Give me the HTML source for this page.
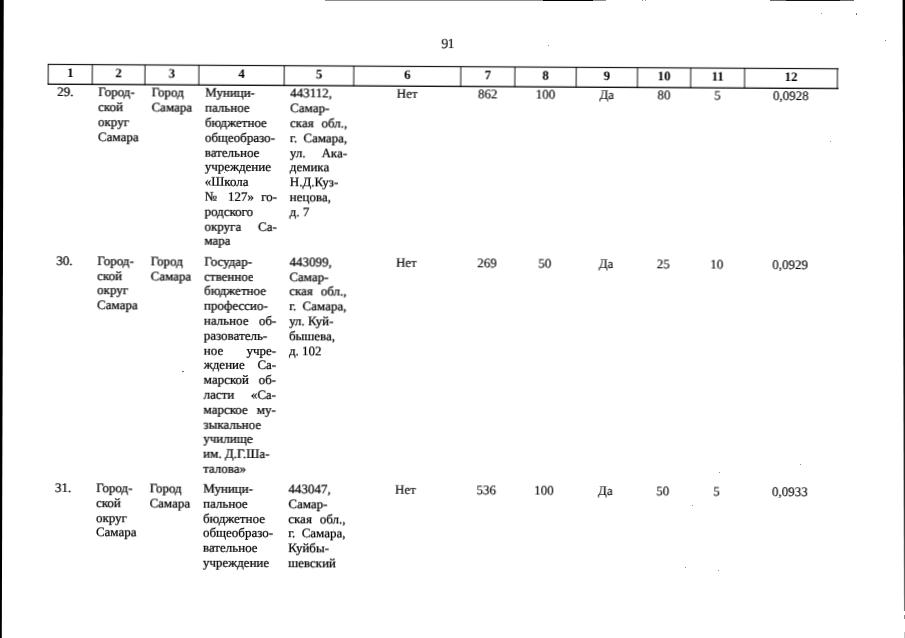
<!DOCTYPE html>
<html lang="ru"><head><meta charset="utf-8"><title>91</title>
<style>
html,body{margin:0;padding:0;background:#fff;}
body{width:905px;height:638px;overflow:hidden;position:relative;font-family:"Liberation Serif",serif;font-size:13px;color:#000;-webkit-text-stroke:0.24px #000;text-rendering:geometricPrecision;}
#pg{position:absolute;left:0;top:0;width:905px;height:638px;transform-origin:0 0;transform:translate(0px,-0.4px) rotate(0.32deg);will-change:transform;}
.t{position:absolute;line-height:15px;height:15px;white-space:pre;}
.j{text-align:justify;text-align-last:justify;white-space:normal;}
.m{text-align:center;-webkit-text-stroke:0.12px #000;}
.h{font-weight:bold;text-align:center;-webkit-text-stroke:0;}
.ln{position:absolute;}
.ht{height:2px;background:linear-gradient(180deg,#000 0,#000 1px,rgba(0,0,0,.2) 1px,rgba(0,0,0,.2) 2px);}
.hb{height:2px;background:linear-gradient(180deg,rgba(0,0,0,.35) 0,rgba(0,0,0,.35) 1px,#000 1px,#000 2px);}
.vt{width:2px;background:linear-gradient(90deg,#111 0,#111 1px,rgba(0,0,0,.08) 1px,rgba(0,0,0,.08) 2px);}
.e{position:absolute;}
.d{position:absolute;background:#555;border-radius:50%;}
</style></head><body>
<div class="e" style="left:0;top:0;width:5px;height:638px;background:#000;clip-path:polygon(0 0,3.75px 0,1.8px 638px,0 638px);"></div>
<div class="e" style="left:900px;top:0;width:5px;height:611px;background:linear-gradient(180deg,#000 0,#000 55%,#2c2c2c 80%,#777 100%);clip-path:polygon(2.6px 0,5px 0,5px 611px,3.95px 611px);"></div>
<div class="e" style="left:904px;top:615px;width:1px;height:3.5px;background:#888;"></div>
<div class="e" style="left:904.3px;top:632px;width:0.7px;height:6px;background:#c4c4c4;"></div>
<div class="e" style="left:325px;top:0;width:281px;height:1px;background:#777;opacity:.85"></div>
<div class="e" style="left:543px;top:0;width:50px;height:1px;background:#000;"></div>
<div class="e" style="left:770px;top:0;width:84px;height:1px;background:#666;"></div>
<div class="e" style="left:786px;top:0;width:54px;height:1.4px;background:#111;"></div>
<div id="pg">
<div class="t" style="left:441.6px;top:35px;font-size:14px;letter-spacing:-0.9px;-webkit-text-stroke:0.05px #000;">91</div>
<div class="ln" style="left:48px;top:63px;width:791px;height:3px;background:linear-gradient(180deg,rgba(0,0,0,0.092) 0px,rgba(0,0,0,0.092) 1px,rgba(0,0,0,0.92) 1px,rgba(0,0,0,0.92) 2px,rgba(0,0,0,0.092) 2px,rgba(0,0,0,0.092) 3px);"></div>
<div class="ln" style="left:48px;top:83px;width:791px;height:2px;background:linear-gradient(180deg,rgba(0,0,0,0.356) 0px,rgba(0,0,0,0.356) 1px,rgba(0,0,0,0.926) 1px,rgba(0,0,0,0.926) 2px);"></div>
<div class="ln" style="left:48px;top:64px;width:2px;height:21px;background:linear-gradient(90deg,rgba(0,0,0,0.807) 0px,rgba(0,0,0,0.807) 1px,rgba(0,0,0,0.127) 1px,rgba(0,0,0,0.127) 2px);"></div>
<div class="ln" style="left:92px;top:64px;width:2px;height:21px;background:linear-gradient(90deg,rgba(0,0,0,0.722) 0px,rgba(0,0,0,0.722) 1px,rgba(0,0,0,0.212) 1px,rgba(0,0,0,0.212) 2px);"></div>
<div class="ln" style="left:144px;top:64px;width:2px;height:21px;background:linear-gradient(90deg,rgba(0,0,0,0.128) 0px,rgba(0,0,0,0.128) 1px,rgba(0,0,0,0.808) 1px,rgba(0,0,0,0.808) 2px);"></div>
<div class="ln" style="left:198px;top:64px;width:2px;height:21px;background:linear-gradient(90deg,rgba(0,0,0,0.212) 0px,rgba(0,0,0,0.212) 1px,rgba(0,0,0,0.723) 1px,rgba(0,0,0,0.723) 2px);"></div>
<div class="ln" style="left:284px;top:64px;width:2px;height:21px;background:linear-gradient(90deg,rgba(0,0,0,0.807) 0px,rgba(0,0,0,0.807) 1px,rgba(0,0,0,0.128) 1px,rgba(0,0,0,0.128) 2px);"></div>
<div class="ln" style="left:353px;top:64px;width:2px;height:21px;background:linear-gradient(90deg,rgba(0,0,0,0.298) 0px,rgba(0,0,0,0.298) 1px,rgba(0,0,0,0.637) 1px,rgba(0,0,0,0.637) 2px);"></div>
<div class="ln" style="left:460px;top:64px;width:2px;height:21px;background:linear-gradient(90deg,rgba(0,0,0,0.298) 0px,rgba(0,0,0,0.298) 1px,rgba(0,0,0,0.637) 1px,rgba(0,0,0,0.637) 2px);"></div>
<div class="ln" style="left:514px;top:64px;width:2px;height:21px;background:linear-gradient(90deg,rgba(0,0,0,0.212) 0px,rgba(0,0,0,0.212) 1px,rgba(0,0,0,0.722) 1px,rgba(0,0,0,0.722) 2px);"></div>
<div class="ln" style="left:576px;top:64px;width:2px;height:21px;background:linear-gradient(90deg,rgba(0,0,0,0.807) 0px,rgba(0,0,0,0.807) 1px,rgba(0,0,0,0.127) 1px,rgba(0,0,0,0.127) 2px);"></div>
<div class="ln" style="left:637px;top:64px;width:2px;height:21px;background:linear-gradient(90deg,rgba(0,0,0,0.552) 0px,rgba(0,0,0,0.552) 1px,rgba(0,0,0,0.382) 1px,rgba(0,0,0,0.382) 2px);"></div>
<div class="ln" style="left:690px;top:64px;width:2px;height:21px;background:linear-gradient(90deg,rgba(0,0,0,0.382) 0px,rgba(0,0,0,0.382) 1px,rgba(0,0,0,0.552) 1px,rgba(0,0,0,0.552) 2px);"></div>
<div class="ln" style="left:744px;top:64px;width:2px;height:21px;background:linear-gradient(90deg,rgba(0,0,0,0.467) 0px,rgba(0,0,0,0.467) 1px,rgba(0,0,0,0.467) 1px,rgba(0,0,0,0.467) 2px);"></div>
<div class="ln" style="left:837px;top:64px;width:2px;height:21px;background:linear-gradient(90deg,rgba(0,0,0,0.637) 0px,rgba(0,0,0,0.637) 1px,rgba(0,0,0,0.297) 1px,rgba(0,0,0,0.297) 2px);"></div>
<div class="t h" style="left:48.6px;top:65px;width:44.1px;">1</div>
<div class="t h" style="left:92.7px;top:65px;width:52.7px;">2</div>
<div class="t h" style="left:145.4px;top:65px;width:53.9px;">3</div>
<div class="t h" style="left:199.3px;top:65px;width:85.3px;">4</div>
<div class="t h" style="left:284.6px;top:65px;width:69.6px;">5</div>
<div class="t h" style="left:354.2px;top:65px;width:107px;">6</div>
<div class="t h" style="left:461.2px;top:65px;width:54.1px;">7</div>
<div class="t h" style="left:515.3px;top:65px;width:61.3px;">8</div>
<div class="t h" style="left:576.6px;top:65px;width:61.3px;">9</div>
<div class="t h" style="left:637.9px;top:65px;width:53.2px;">10</div>
<div class="t h" style="left:691.1px;top:65px;width:53.9px;">11</div>
<div class="t h" style="left:745px;top:65px;width:92.8px;">12</div>
<div class="t" style="left:57.7px;top:84px;">29.</div>
<div class="t" style="left:98.8px;top:84px;">Город-</div>
<div class="t" style="left:98.8px;top:99px;">ской</div>
<div class="t" style="left:98.8px;top:114px;">округ</div>
<div class="t" style="left:98.8px;top:129px;">Самара</div>
<div class="t" style="left:152.2px;top:84px;">Город</div>
<div class="t" style="left:152.2px;top:99px;">Самара</div>
<div class="t" style="left:205.7px;top:84px;width:72.4px;">Муници-</div>
<div class="t" style="left:205.7px;top:99px;width:72.4px;">пальное</div>
<div class="t" style="left:205.7px;top:114px;width:72.4px;">бюджетное</div>
<div class="t" style="left:205.7px;top:129px;width:72.4px;">общеобразо-</div>
<div class="t" style="left:205.7px;top:144px;width:72.4px;">вательное</div>
<div class="t" style="left:205.7px;top:158px;width:72.4px;">учреждение</div>
<div class="t" style="left:205.7px;top:173px;width:72.4px;">«Школа</div>
<div class="t j" style="left:205.7px;top:188px;width:72.4px;">№ 127» го-</div>
<div class="t" style="left:205.7px;top:203px;width:72.4px;">родского</div>
<div class="t j" style="left:205.7px;top:218px;width:72.4px;">округа Са-</div>
<div class="t" style="left:205.7px;top:232px;width:72.4px;">мара</div>
<div class="t" style="left:290.8px;top:84px;width:57.3px;">443112,</div>
<div class="t" style="left:290.8px;top:99px;width:57.3px;">Самар-</div>
<div class="t j" style="left:290.8px;top:114px;width:57.3px;">ская обл.,</div>
<div class="t j" style="left:290.8px;top:129px;width:57.3px;">г. Самара,</div>
<div class="t j" style="left:290.8px;top:144px;width:57.3px;">ул. Ака-</div>
<div class="t" style="left:290.8px;top:158px;width:57.3px;">демика</div>
<div class="t" style="left:290.8px;top:173px;width:57.3px;">Н.Д.Куз-</div>
<div class="t" style="left:290.8px;top:188px;width:57.3px;">нецова,</div>
<div class="t" style="left:290.8px;top:203px;width:57.3px;">д. 7</div>
<div class="t m" style="left:354.2px;top:84px;width:107px;">Нет</div>
<div class="t m" style="left:461.2px;top:84px;width:54.1px;">862</div>
<div class="t m" style="left:515.3px;top:84px;width:61.3px;">100</div>
<div class="t m" style="left:576.6px;top:84px;width:61.3px;">Да</div>
<div class="t m" style="left:637.9px;top:84px;width:53.2px;">80</div>
<div class="t m" style="left:691.1px;top:84px;width:53.9px;">5</div>
<div class="t m" style="left:745px;top:84px;width:92.8px;">0,0928</div>
<div class="t" style="left:57.7px;top:253px;">30.</div>
<div class="t" style="left:98.82px;top:253px;">Город-</div>
<div class="t" style="left:98.82px;top:268px;">ской</div>
<div class="t" style="left:98.82px;top:282px;">округ</div>
<div class="t" style="left:98.82px;top:297px;">Самара</div>
<div class="t" style="left:152.25px;top:253px;">Город</div>
<div class="t" style="left:152.25px;top:268px;">Самара</div>
<div class="t" style="left:205.78px;top:253px;width:72.4px;">Государ-</div>
<div class="t" style="left:205.78px;top:268px;width:72.4px;">ственное</div>
<div class="t" style="left:205.78px;top:282px;width:72.4px;">бюджетное</div>
<div class="t" style="left:205.78px;top:297px;width:72.4px;">профессио-</div>
<div class="t j" style="left:205.78px;top:312px;width:72.4px;">нальное об-</div>
<div class="t" style="left:205.78px;top:327px;width:72.4px;">разователь-</div>
<div class="t j" style="left:205.78px;top:342px;width:72.4px;">ное учре-</div>
<div class="t j" style="left:205.78px;top:356px;width:72.4px;">ждение Са-</div>
<div class="t j" style="left:205.78px;top:371px;width:72.4px;">марской об-</div>
<div class="t j" style="left:205.78px;top:386px;width:72.4px;">ласти «Са-</div>
<div class="t j" style="left:205.78px;top:401px;width:72.4px;">марское му-</div>
<div class="t" style="left:205.78px;top:416px;width:72.4px;">зыкальное</div>
<div class="t" style="left:205.78px;top:430px;width:72.4px;">училище</div>
<div class="t" style="left:205.78px;top:445px;width:72.4px;">им. Д.Г.Ша-</div>
<div class="t" style="left:205.78px;top:460px;width:72.4px;">талова»</div>
<div class="t" style="left:290.92px;top:253px;width:57.3px;">443099,</div>
<div class="t" style="left:290.92px;top:268px;width:57.3px;">Самар-</div>
<div class="t j" style="left:290.92px;top:282px;width:57.3px;">ская обл.,</div>
<div class="t j" style="left:290.92px;top:297px;width:57.3px;">г. Самара,</div>
<div class="t" style="left:290.92px;top:312px;width:57.3px;">ул. Куй-</div>
<div class="t" style="left:290.92px;top:327px;width:57.3px;">бышева,</div>
<div class="t" style="left:290.92px;top:342px;width:57.3px;">д. 102</div>
<div class="t m" style="left:354.35px;top:253px;width:107px;">Нет</div>
<div class="t m" style="left:461.41px;top:253px;width:54.1px;">269</div>
<div class="t m" style="left:515.54px;top:253px;width:61.3px;">50</div>
<div class="t m" style="left:576.87px;top:253px;width:61.3px;">Да</div>
<div class="t m" style="left:638.2px;top:253px;width:53.2px;">25</div>
<div class="t m" style="left:691.42px;top:253px;width:53.9px;">10</div>
<div class="t m" style="left:745.35px;top:253px;width:92.8px;">0,0929</div>
<div class="t" style="left:57.71px;top:480px;">31.</div>
<div class="t" style="left:98.89px;top:480px;">Город-</div>
<div class="t" style="left:98.89px;top:495px;">ской</div>
<div class="t" style="left:98.89px;top:510px;">округ</div>
<div class="t" style="left:98.89px;top:524px;">Самара</div>
<div class="t" style="left:152.38px;top:480px;">Город</div>
<div class="t" style="left:152.38px;top:495px;">Самара</div>
<div class="t" style="left:205.98px;top:480px;width:72.4px;">Муници-</div>
<div class="t" style="left:205.98px;top:495px;width:72.4px;">пальное</div>
<div class="t" style="left:205.98px;top:510px;width:72.4px;">бюджетное</div>
<div class="t" style="left:205.98px;top:524px;width:72.4px;">общеобразо-</div>
<div class="t" style="left:205.98px;top:539px;width:72.4px;">вательное</div>
<div class="t" style="left:205.98px;top:554px;width:72.4px;">учреждение</div>
<div class="t" style="left:291.23px;top:480px;width:57.3px;">443047,</div>
<div class="t" style="left:291.23px;top:495px;width:57.3px;">Самар-</div>
<div class="t j" style="left:291.23px;top:510px;width:57.3px;">ская обл.,</div>
<div class="t j" style="left:291.23px;top:524px;width:57.3px;">г. Самара,</div>
<div class="t" style="left:291.23px;top:539px;width:57.3px;">Куйбы-</div>
<div class="t" style="left:291.23px;top:554px;width:57.3px;">шевский</div>
<div class="t m" style="left:354.74px;top:480px;width:107px;">Нет</div>
<div class="t m" style="left:461.93px;top:480px;width:54.1px;">536</div>
<div class="t m" style="left:516.12px;top:480px;width:61.3px;">100</div>
<div class="t m" style="left:577.53px;top:480px;width:61.3px;">Да</div>
<div class="t m" style="left:638.94px;top:480px;width:53.2px;">50</div>
<div class="t m" style="left:692.24px;top:480px;width:53.9px;">5</div>
<div class="t m" style="left:746.23px;top:480px;width:92.8px;">0,0933</div>
</div>
<div class="d" style="left:855.95px;top:13.35px;width:1.3px;height:1.3px;"></div>
<div class="d" style="left:821.05px;top:12.85px;width:0.9px;height:0.9px;"></div>
<div class="d" style="left:885px;top:39.7px;width:1px;height:1px;"></div>
<div class="d" style="left:548px;top:45.2px;width:0.8px;height:0.8px;"></div>
<div class="d" style="left:182.2px;top:371.1px;width:1.4px;height:1.4px;"></div>
<div class="d" style="left:830.35px;top:141.05px;width:0.9px;height:0.9px;"></div>
<div class="d" style="left:718.7px;top:472.2px;width:0.8px;height:0.8px;"></div>
<div class="d" style="left:800px;top:463.9px;width:0.8px;height:0.8px;"></div>
<div class="d" style="left:691.7px;top:504.8px;width:0.8px;height:0.8px;"></div>
<div class="d" style="left:685.4px;top:566.7px;width:0.8px;height:0.8px;"></div>
<div class="d" style="left:717.5px;top:569.7px;width:0.8px;height:0.8px;"></div>
<div class="d" style="left:641.5px;top:0.3px;width:1px;height:1px;"></div>
<div class="d" style="left:645.05px;top:0.15px;width:0.9px;height:0.9px;"></div>
<div class="d" style="left:223.7px;top:172.1px;width:1px;height:1px;"></div>
</body></html>
